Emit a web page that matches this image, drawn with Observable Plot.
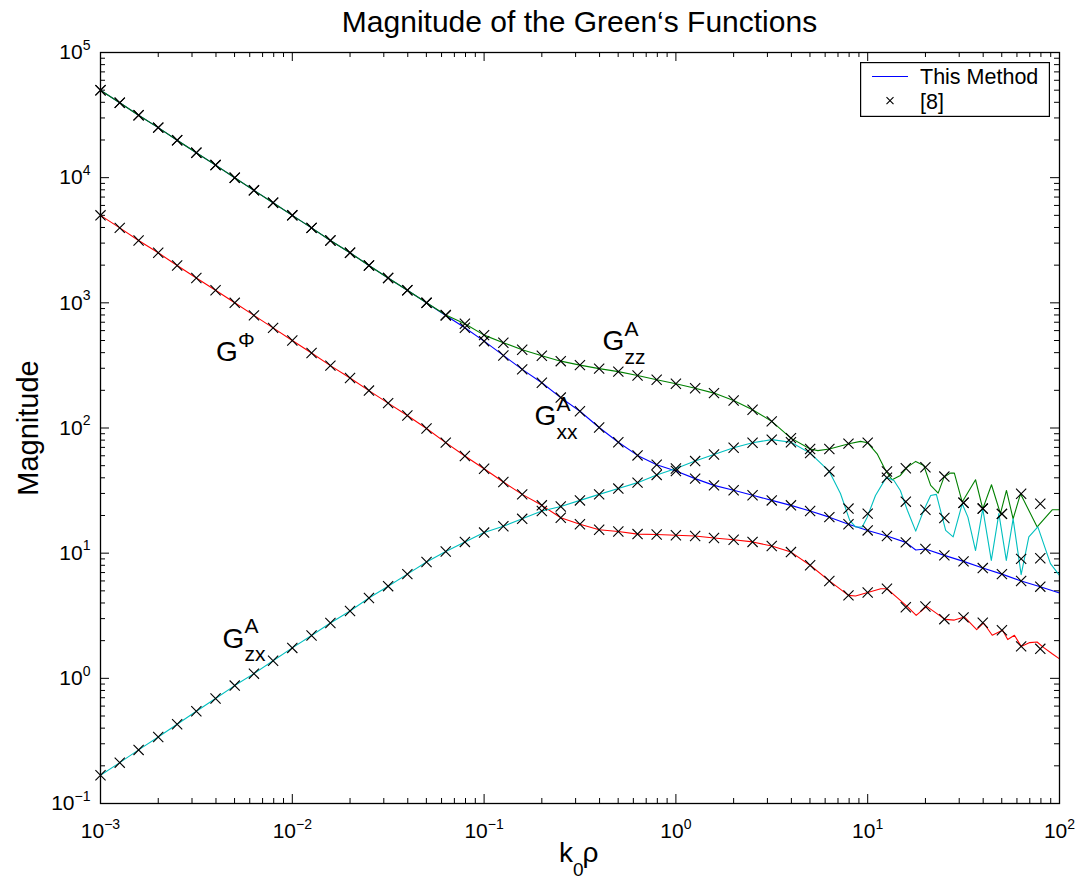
<!DOCTYPE html>
<html>
<head>
<meta charset="utf-8">
<script src="https://cdn.jsdelivr.net/npm/d3@7"></script>
<script src="https://cdn.jsdelivr.net/npm/@observablehq/plot@0.6"></script>
<style>
  html, body { margin: 0; padding: 0; background: #fff; overflow: hidden; }
  #wrap { position: relative; width: 1079px; height: 879px; font-family: "Liberation Sans", Arial, Helvetica, sans-serif; color: #000; }
  #title { box-sizing: border-box; height: 40px; padding: 4px 20px 0 100px; line-height: 36px; font-size: 30px; text-align: center; white-space: nowrap; }
  #legend { position: absolute; left: 860px; top: 62px; }
</style>
</head>
<body>
<div id="wrap">
  <div id="title">Magnitude of the Green‘s Functions</div>
  <div id="chart"></div>
  <svg id="legend" width="190" height="55" xmlns="http://www.w3.org/2000/svg">
    <rect x="0.6" y="0.6" width="188.8" height="53.8" fill="#fff" stroke="#000" stroke-width="1.2"></rect>
    <line x1="12" x2="48" y1="14.5" y2="14.5" stroke="#0000ff" stroke-width="1.2"></line>
    <text x="60" y="22" font-size="21.5">This Method</text>
    <path d="M26.5,35.2 L33.5,42.2 M26.5,42.2 L33.5,35.2" stroke="#000" stroke-width="1.1" fill="none"></path>
    <text x="60" y="46.5" font-size="21.5">[8]</text>
  </svg>
</div>
<script>
// Sample positions k0ρ of the reference solution [8] (ten per decade)
const markerX = [
  0.001, 0.00126, 0.00158, 0.002, 0.00251, 0.00316, 0.00398, 0.00501, 0.00631, 0.00794,
  0.01, 0.0126, 0.0158, 0.02, 0.0251, 0.0316, 0.0398, 0.0501, 0.0631, 0.0794,
  0.1, 0.126, 0.158, 0.2, 0.251, 0.316, 0.398, 0.501, 0.631, 0.794,
  1, 1.26, 1.58, 2, 2.51, 3.16, 3.98, 5.01, 6.31, 7.94,
  10, 12.6, 15.8, 20, 25.1, 31.6, 39.8, 50.1, 63.1, 79.4
];

// Reference magnitudes [8] at markerX
const refGzz = [
  50000, 39700, 31500, 25100, 19900, 15800, 12600, 9980, 7920, 6300,
  5000, 3970, 3150, 2510, 1990, 1580, 1260, 1000, 800, 681,
  552, 480, 422, 378, 342, 318, 298, 282, 263, 243,
  226, 208, 190, 166, 140, 113, 83, 68, 68, 75,
  76.4, 44.9, 47.7, 48.6, 40.9, 25.3, 22.7, 20.6, 29.8, 24.8
];
const refGxx = [
  50000, 39700, 31500, 25100, 19900, 15800, 12600, 9980, 7920, 6300,
  5000, 3970, 3150, 2510, 1990, 1580, 1260, 1000, 792, 632,
  494, 380, 294, 230, 175, 136, 101, 77, 60.4, 50.9,
  45.3, 39.4, 34.8, 31.8, 29.0, 26.4, 24.1, 21.7, 19.4, 17.0,
  15.2, 13.7, 12.2, 10.8, 9.6, 8.6, 7.6, 6.8, 6.0, 5.4
];
const refGphi = [
  5000, 3970, 3150, 2510, 1990, 1580, 1260, 1000, 794, 631,
  500, 397, 315, 251, 199, 158, 126, 99, 76.4, 59.7,
  47.3, 37.0, 29.5, 24.1, 19.2, 17.0, 15.4, 14.9, 14.2, 14.1,
  13.9, 13.7, 13.2, 12.8, 12.3, 11.4, 10.2, 8.0, 6.0, 4.6,
  4.85, 5.2, 3.7, 3.75, 2.97, 3.07, 2.78, 2.42, 1.8, 1.72
];
const refGzx = [
  0.168, 0.212, 0.268, 0.340, 0.430, 0.545, 0.69, 0.875, 1.09, 1.38,
  1.75, 2.2, 2.77, 3.45, 4.38, 5.45, 6.8, 8.5, 10.3, 12.3,
  14.6, 16.4, 18.8, 21.7, 23.6, 26.4, 29.5, 32.8, 36.6, 42.2,
  47.5, 54.4, 61.5, 69.6, 76.3, 80.7, 77, 63, 45, 22.7,
  20.7, 40.0, 25.8, 22.2, 19.1, 25.3, 22.7, 20.6, 9.0, 9.1
];

// "This Method": the curves follow the reference samples up to `head`,
// then continue through their own denser vertices.
const tailGzzX = [5.5, 6.31, 7.98, 9.17, 10.0, 11.2, 12.4, 13.4, 14.8, 16.1, 17.8, 19.6, 21.3, 23.3, 25.0, 27.0, 28.3, 31.1, 36.5, 39.8, 44.2, 49.2, 52.9, 57.3, 62.6, 76.5, 91.6, 100];
const tailGzzY = [66, 68, 74.8, 78.2, 76.2, 62.2, 45.8, 38.6, 41.8, 48.7, 54.1, 50.2, 34.8, 30.2, 40.5, 43.6, 43.6, 25.6, 38.6, 22.6, 35.2, 20.7, 31.7, 18.8, 29.8, 16.2, 22.2, 22.2];

const tailGzxX = [7.21, 8.06, 8.64, 9.36, 9.94, 10.98, 12.53, 13.7, 14.8, 16.1, 17.8, 19.6, 21.3, 22.8, 25.5, 27.9, 31.1, 33.3, 36.5, 39.8, 44.1, 48.3, 52.8, 57.3, 63.1, 69.2, 77.1, 89.7, 100];
const tailGzxY = [30, 18.3, 16.2, 16.2, 19.4, 28.9, 40.5, 38.1, 31.7, 22.0, 15.0, 22.0, 28.9, 29.5, 15.2, 13.5, 24.8, 19.4, 10.5, 22.6, 8.75, 20.7, 8.75, 18.8, 6.73, 13.5, 16.2, 8.24, 6.64];

const tailGxxX = [17.8, 100];
const tailGxxY = [10.6, 4.8];

const tailGphiX = [7.94, 8.64, 10.0, 11.7, 12.6, 14.3, 16.2, 17.9, 20.3, 25.3, 28.3, 32.0, 37.0, 40.2, 44.6, 50.5, 53.7, 58.2, 63.1, 70, 76.4, 82.8, 91.6, 100];
const tailGphiY = [4.6, 4.55, 4.85, 5.2, 5.2, 4.4, 3.71, 3.18, 3.76, 2.96, 2.92, 3.09, 2.45, 2.77, 2.21, 2.42, 2.04, 2.21, 1.8, 1.93, 1.95, 1.76, 1.57, 1.43];

// Decade tick values
const xTickValues = [1e-3, 1e-2, 1e-1, 1, 10, 100];
const yTickValues = [1e-1, 1, 10, 100, 1e3, 1e4, 1e5];

// Curve annotations: G with superscript / subscript
const curveLabels = [
  {x: 0.0040, y: 340, sup: "Φ", sub: ""},
  {x: 0.414, y: 417, sup: "A", sub: "zz"},
  {x: 0.183, y: 105, sup: "A", sub: "xx"},
  {x: 0.00433, y: 1.74, sup: "A", sub: "zx"}
];

const series = [
  {ref: refGxx, head: 50, tx: tailGxxX, ty: tailGxxY, color: "#0000ff"},
  {ref: refGzz, head: 38, tx: tailGzzX, ty: tailGzzY, color: "#008000"},
  {ref: refGphi, head: 39, tx: tailGphiX, ty: tailGphiY, color: "#ff0000"},
  {ref: refGzx, head: 39, tx: tailGzxX, ty: tailGzxY, color: "#00bfbf"}
];

function curveData(s) {
  const pts = [];
  for (let i = 0; i < s.head; i++) pts.push({x: markerX[i], y: s.ref[i]});
  s.tx.forEach((x, i) => pts.push({x, y: s.ty[i]}));
  return pts.sort((a, b) => a.x - b.x);
}

const refPoints = [];
series.forEach(s => s.ref.forEach((v, i) => refPoints.push({x: markerX[i], y: v})));

// Minor ticks 2..9 in each decade
const minorOf = (lo, hi) => {
  const out = [];
  for (let e = lo; e < hi; e++) for (let m = 2; m <= 9; m++) out.push(m * Math.pow(10, e));
  return out;
};
const xMinor = minorOf(-3, 2);
const yMinor = minorOf(-1, 5);

const W = 1079, H = 839;
const mT = 12, mB = 76, mL = 100, mR = 20;
const innerH = H - mT - mB, innerW = W - mL - mR;
const major = 9, minor = 5;

const tickMarks = [
  Plot.ruleX(xTickValues, {insetTop: innerH - major, stroke: "#000", strokeWidth: 1}),
  Plot.ruleX(xTickValues, {insetBottom: innerH - major, stroke: "#000", strokeWidth: 1}),
  Plot.ruleX(xMinor, {insetTop: innerH - minor, stroke: "#000", strokeWidth: 1}),
  Plot.ruleX(xMinor, {insetBottom: innerH - minor, stroke: "#000", strokeWidth: 1}),
  Plot.ruleY(yTickValues, {insetRight: innerW - major, stroke: "#000", strokeWidth: 1}),
  Plot.ruleY(yTickValues, {insetLeft: innerW - major, stroke: "#000", strokeWidth: 1}),
  Plot.ruleY(yMinor, {insetRight: innerW - minor, stroke: "#000", strokeWidth: 1}),
  Plot.ruleY(yMinor, {insetLeft: innerW - minor, stroke: "#000", strokeWidth: 1})
];

const expFormat = d => "10^" + Math.round(Math.log10(d));

const chart = Plot.plot({
  width: W,
  height: H,
  marginTop: mT, marginBottom: mB, marginLeft: mL, marginRight: mR,
  style: {fontFamily: "'Liberation Sans', Arial, Helvetica, sans-serif", fontSize: "21px", color: "#000", background: "#fff", overflow: "visible"},
  x: {type: "log", domain: [1e-3, 1e2]},
  y: {type: "log", domain: [1e-1, 1e5]},
  marks: [
    ...tickMarks,
    ...series.map(s => Plot.line(curveData(s), {x: "x", y: "y", stroke: s.color, strokeWidth: 1.1})),
    Plot.dot(refPoints, {x: "x", y: "y", symbol: "times", r: 4.7, stroke: "#000", strokeWidth: 1.1}),
    Plot.frame({stroke: "#000", strokeWidth: 1.3}),
    Plot.axisX({ticks: xTickValues, tickSize: 0, tickPadding: 20, tickFormat: expFormat, fontSize: 21, label: null}),
    Plot.axisY({ticks: yTickValues, tickSize: 0, tickPadding: 10, tickFormat: expFormat, fontSize: 21, label: null}),
    // curve labels
    Plot.text(curveLabels, {x: "x", y: "y", text: () => "G", textAnchor: "start", lineAnchor: "middle", fontSize: 28, dy: -9}),
    Plot.text(curveLabels, {x: "x", y: "y", text: "sup", textAnchor: "start", lineAnchor: "middle", fontSize: 21, dx: 22, dy: -21.5}),
    Plot.text(curveLabels, {x: "x", y: "y", text: "sub", textAnchor: "start", lineAnchor: "middle", fontSize: 21, dx: 22, dy: 6.5}),
    // axis titles
    Plot.text(["Magnitude"], {frameAnchor: "left", text: d => d, rotate: -90, textAnchor: "middle", lineAnchor: "middle", fontSize: 29, dx: -72}),
    Plot.text(["k"], {frameAnchor: "bottom", text: d => d, textAnchor: "start", lineAnchor: "middle", fontSize: 28, dx: -21, dy: 50}),
    Plot.text(["0"], {frameAnchor: "bottom", text: d => d, textAnchor: "start", lineAnchor: "middle", fontSize: 19, dx: -7, dy: 66}),
    Plot.text(["ρ"], {frameAnchor: "bottom", text: d => d, textAnchor: "start", lineAnchor: "middle", fontSize: 28, dx: 2.5, dy: 50})
  ]
});

// Render "10^n" tick labels as 10 with a raised exponent
const ns = "http://www.w3.org/2000/svg";
chart.querySelectorAll("text").forEach(t => {
  const m = /^10\^(-?\d+)$/.exec(t.textContent);
  if (!m) return;
  t.textContent = "";
  const base = document.createElementNS(ns, "tspan");
  base.textContent = "10";
  const exp = document.createElementNS(ns, "tspan");
  exp.textContent = m[1].replace("-", "\u2212");
  exp.setAttribute("font-size", "14");
  exp.setAttribute("dy", "-9.5");
  t.appendChild(base);
  t.appendChild(exp);
});

document.getElementById("chart").appendChild(chart);
</script>
</body>
</html>
